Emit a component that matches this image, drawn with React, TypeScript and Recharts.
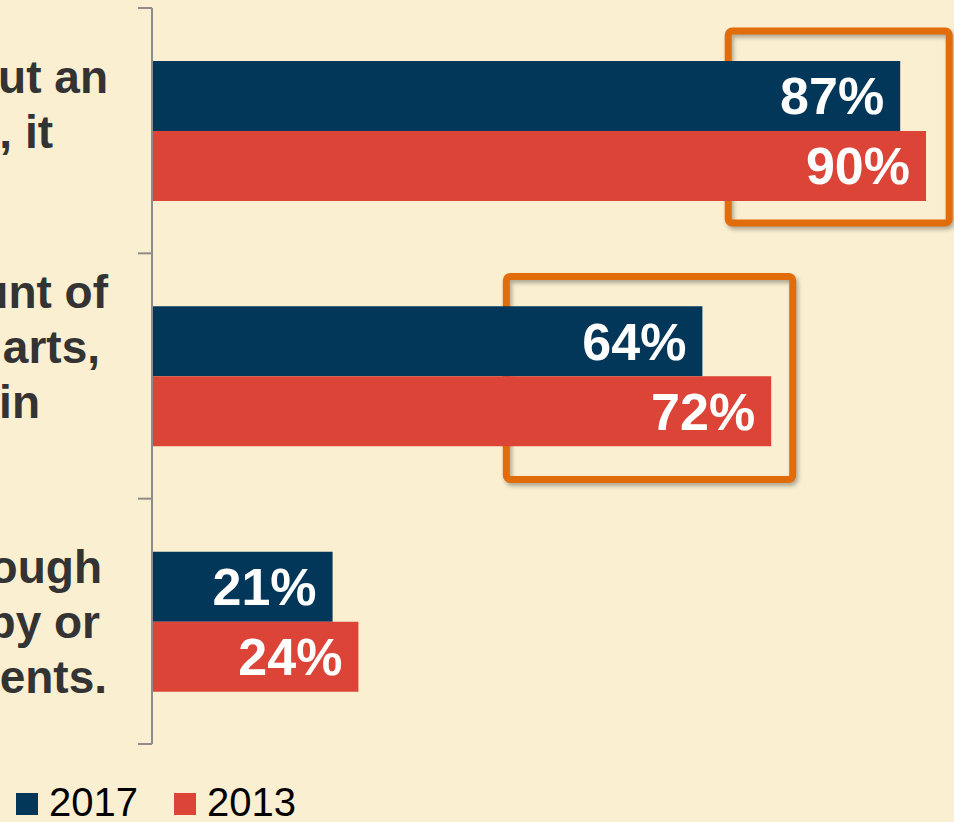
import React from 'react';
import { BarChart, Bar, XAxis, YAxis, LabelList, ReferenceArea, Legend } from 'recharts';

const CATEGORIES = ['cat1', 'cat2', 'cat3'];
const CATEGORY_LINES = [
  ['ut an', ', it'],
  ['unt of', 'arts,', 'in'],
  ['ough', 'py or', 'ents.'],
];
const SERIES_NAMES = ['2017', '2013'];
const VALUES_2017 = [87, 64, 21];
const VALUES_2013 = [90, 72, 24];
// highlight boxes (x in %, category, vertical extent as fraction of the band)
const BOXES = [
  { x1: 67.0, x2: 92.7, cat: 'cat1', f1: 0.094, f2: 0.876 },
  { x1: 41.2, x2: 74.5, cat: 'cat2', f1: 0.094, f2: 0.922 },
];

const COLORS = { s2017: '#02375A', s2013: '#DB4436', bg: '#FAEFD1', text: '#333333', axis: '#8C8C8C', box: '#E36C0A' };

// layout of label fragments (not data)
const LABEL_RIGHT = [[108, 53], [108, 100, 40], [102, 100, 107]];
const LABEL_FIRST_OFFSET = [-38, -68, -38];
const LINE_SPACING = 55;
const BAND = 736 / 3;

const data = CATEGORIES.map((c, i) => ({ name: c, v2017: VALUES_2017[i], v2013: VALUES_2013[i] }));

const CatTick = (props: any) => {
  const { y, index } = props;
  const lines = CATEGORY_LINES[index] || [];
  return (
    <g>
      <line x1={138} x2={152} y1={y - BAND / 2} y2={y - BAND / 2} stroke={COLORS.axis} strokeWidth={2} />
      {index === CATEGORIES.length - 1 && (
        <line x1={138} x2={152} y1={y + BAND / 2} y2={y + BAND / 2} stroke={COLORS.axis} strokeWidth={2} />
      )}
      {lines.map((t, k) => (
        <text
          key={k}
          x={LABEL_RIGHT[index][k]}
          y={y + LABEL_FIRST_OFFSET[index] + k * LINE_SPACING}
          textAnchor="end"
          fontFamily="'Liberation Sans', Arial, sans-serif"
          fontWeight="bold"
          fontSize={46}
          fill={COLORS.text}
        >
          {t}
        </text>
      ))}
    </g>
  );
};

const makeBoxShape = (f1: number, f2: number) => (props: any) => {
  const { x, y, width, height } = props;
  return (
    <rect
      x={x}
      y={y + f1 * height}
      width={width}
      height={(f2 - f1) * height}
      rx={4}
      ry={4}
      fill="none"
      stroke={COLORS.box}
      strokeWidth={7}
      style={{ filter: 'drop-shadow(2px 3px 2px rgba(0,0,0,0.3))' }}
    />
  );
};

const LegendContent = () => {
  const items = [
    { name: SERIES_NAMES[0], color: COLORS.s2017 },
    { name: SERIES_NAMES[1], color: COLORS.s2013 },
  ];
  return (
    <div style={{ display: 'flex', alignItems: 'center', paddingLeft: 16 }}>
      {items.map((it, i) => (
        <div key={i} style={{ display: 'flex', alignItems: 'center', marginRight: 36 }}>
          <span style={{ display: 'inline-block', width: 22, height: 22, background: it.color, marginRight: 11, marginTop: 4 }} />
          <span style={{ fontFamily: "'Liberation Sans', Arial, sans-serif", fontSize: 40, lineHeight: '40px', color: '#000' }}>{it.name}</span>
        </div>
      ))}
    </div>
  );
};

export default function App() {
  return (
    <div style={{ position: 'absolute', left: 0, top: 0, width: 954, height: 822, overflow: 'hidden', background: COLORS.bg }}>
      <BarChart
        width={1012}
        height={822}
        data={data}
        layout="vertical"
        margin={{ top: 8, right: 0, bottom: 38, left: 0 }}
        barGap={0}
      >
        <XAxis type="number" domain={[0, 100]} hide />
        <YAxis
          type="category"
          dataKey="name"
          width={152}
          tickLine={false}
          axisLine={{ stroke: COLORS.axis, strokeWidth: 2 }}
          tick={<CatTick />}
          interval={0}
        />
        <Legend
          verticalAlign="bottom"
          content={<LegendContent />}
          wrapperStyle={{ position: 'absolute', left: 0, top: 782, width: 954, height: 40 }}
        />
        <Bar dataKey="v2017" name={SERIES_NAMES[0]} fill={COLORS.s2017} barSize={70} isAnimationActive={false}>
          <LabelList
            dataKey="v2017"
            position="insideRight"
            offset={16}
            formatter={(v: any) => `${v}%`}
            fill="#FFFFFF"
            fontFamily="'Liberation Sans', Arial, sans-serif"
            fontWeight="bold"
            fontSize={52}
          />
        </Bar>
        <Bar dataKey="v2013" name={SERIES_NAMES[1]} fill={COLORS.s2013} barSize={70} isAnimationActive={false}>
          <LabelList
            dataKey="v2013"
            position="insideRight"
            offset={16}
            formatter={(v: any) => `${v}%`}
            fill="#FFFFFF"
            fontFamily="'Liberation Sans', Arial, sans-serif"
            fontWeight="bold"
            fontSize={52}
          />
        </Bar>
        {BOXES.map((b, i) => (
          <ReferenceArea
            key={i}
            x1={b.x1}
            x2={b.x2}
            y1={b.cat}
            y2={b.cat}
            shape={makeBoxShape(b.f1, b.f2)}
            ifOverflow="visible"
          />
        ))}
      </BarChart>
    </div>
  );
}
